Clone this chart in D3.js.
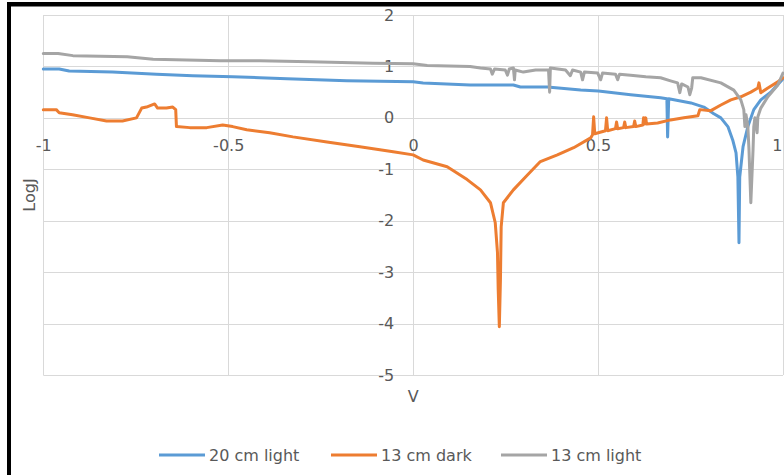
<!DOCTYPE html>
<html><head><meta charset="utf-8">
<script src="https://cdn.jsdelivr.net/npm/d3@7"></script>
<style>html,body{margin:0;padding:0;background:#fff;overflow:hidden;} svg{display:block;}</style>
</head><body><svg id="c" width="784" height="475"></svg>
<script>
// ---- data ----
const seriesNames = ["20 cm light", "13 cm dark", "13 cm light"];
const seriesColors = ["#5B9BD5", "#ED7D31", "#A5A5A5"];
const xTicks = [-1, -0.5, 0, 0.5, 1];
const xTickLabels = ["-1", "-0.5", "0", "0.5", "1"];
const yTicks = [-5, -4, -3, -2, -1, 0, 1, 2];
const yTickLabels = ["-5", "-4", "-3", "-2", "-1", "0", "1", "2"];
const xTitle = "V";
const yTitle = "LogJ";

const blueV = [-1.0,-0.957,-0.93,-0.813,-0.694,-0.596,-0.488,-0.415,-0.341,-0.179,0.0,0.027,0.154,0.271,0.29,0.363,0.453,0.501,0.588,0.669,0.686,0.688,0.691,0.751,0.786,0.813,0.832,0.851,0.864,0.873,0.878,0.881,0.883,0.892,0.905,0.921,0.94,0.967,1.0];
const blueL = [0.95,0.95,0.91,0.89,0.85,0.82,0.80,0.78,0.76,0.72,0.70,0.68,0.64,0.64,0.60,0.60,0.54,0.52,0.45,0.39,0.37,-0.37,0.37,0.29,0.21,0.08,0.0,-0.17,-0.43,-0.68,-1.15,-2.43,-1.15,-0.56,-0.17,0.16,0.35,0.50,0.76];

const orangeV = [-1.0,-0.965,-0.957,-0.921,-0.875,-0.829,-0.786,-0.748,-0.734,-0.721,-0.699,-0.691,-0.667,-0.650,-0.642,-0.640,-0.604,-0.558,-0.515,-0.488,-0.450,-0.388,-0.325,-0.233,-0.144,-0.054,0.0,0.027,0.092,0.146,0.182,0.209,0.222,0.228,0.230,0.233,0.236,0.238,0.244,0.271,0.309,0.344,0.390,0.434,0.480,0.485,0.488,0.491,0.520,0.523,0.526,0.547,0.550,0.553,0.569,0.572,0.575,0.596,0.599,0.602,0.621,0.623,0.626,0.629,0.631,0.661,0.696,0.732,0.770,0.775,0.805,0.832,0.859,0.886,0.913,0.932,0.935,0.940,0.959,0.986,1.0];
const orangeL = [0.16,0.16,0.10,0.06,0.0,-0.06,-0.06,0.0,0.19,0.21,0.27,0.19,0.19,0.21,0.16,-0.17,-0.19,-0.19,-0.14,-0.17,-0.23,-0.29,-0.37,-0.47,-0.56,-0.66,-0.72,-0.82,-0.95,-1.20,-1.40,-1.65,-2.04,-2.62,-3.34,-4.06,-3.15,-2.12,-1.65,-1.40,-1.11,-0.85,-0.72,-0.58,-0.39,-0.33,0.02,-0.31,-0.25,0.0,-0.25,-0.21,-0.08,-0.21,-0.19,-0.08,-0.19,-0.17,-0.06,-0.17,-0.14,0.0,-0.12,0.0,-0.12,-0.10,-0.04,0.0,0.04,0.16,0.14,0.25,0.35,0.41,0.50,0.58,0.68,0.49,0.58,0.70,0.78];

const grayV = [-1.0,-0.96,-0.92,-0.773,-0.703,-0.521,-0.415,-0.279,-0.108,0.0,0.038,0.154,0.182,0.209,0.214,0.220,0.249,0.255,0.260,0.271,0.274,0.276,0.298,0.331,0.366,0.369,0.371,0.412,0.425,0.431,0.453,0.458,0.463,0.499,0.507,0.512,0.547,0.553,0.558,0.588,0.629,0.669,0.696,0.715,0.721,0.726,0.743,0.748,0.753,0.756,0.778,0.832,0.867,0.886,0.894,0.897,0.900,0.905,0.908,0.913,0.919,0.921,0.924,0.930,0.932,0.940,0.959,0.986,1.0];
const grayL = [1.25,1.25,1.21,1.19,1.14,1.11,1.11,1.09,1.06,1.05,1.02,1.0,0.97,0.95,0.85,0.95,0.93,0.83,0.95,0.97,0.74,0.93,0.89,0.93,0.93,0.50,0.97,0.93,0.82,0.93,0.89,0.74,0.89,0.87,0.74,0.87,0.85,0.74,0.85,0.83,0.80,0.78,0.72,0.68,0.49,0.66,0.60,0.45,0.58,0.78,0.78,0.68,0.54,0.35,0.16,-0.17,0.06,-0.17,-0.62,-1.65,-0.62,-0.17,0.0,-0.29,0.02,0.19,0.41,0.64,0.87];

const seriesV = [blueV, orangeV, grayV];
const seriesL = [blueL, orangeL, grayL];

// ---- drawing ----
const svg = d3.select("#c");
const FONT = "'DejaVu Sans', sans-serif";
const TXT = "#595959";
const GRID = "#d9d9d9";

svg.append("rect").attr("width", 784).attr("height", 475).attr("fill", "#fff");

const x = d3.scaleLinear().domain([-1, 1]).range([43.3, 783]);
const y = d3.scaleLinear().domain([-5, 2]).range([375, 15]);

const grid = svg.append("g");
grid.selectAll("line.h").data(yTicks).enter().append("line")
  .attr("x1", x(-1)).attr("x2", x(1))
  .attr("y1", d => Math.round(y(d)) + 0.5).attr("y2", d => Math.round(y(d)) + 0.5)
  .attr("stroke", GRID).attr("stroke-width", 1);
grid.selectAll("line.v").data(xTicks).enter().append("line")
  .attr("y1", y(2)).attr("y2", y(-5))
  .attr("x1", d => Math.round(x(d)) + 0.5).attr("x2", d => Math.round(x(d)) + 0.5)
  .attr("stroke", GRID).attr("stroke-width", 1);

// axes (through origin)
const xAxis = d3.axisBottom(x).tickValues(xTicks).tickFormat((d, i) => xTickLabels[i]).tickSize(0).tickPadding(22);
const gx = svg.append("g").attr("transform", `translate(0,${y(0)})`).call(xAxis);
gx.select(".domain").remove();
gx.selectAll("text").attr("fill", TXT).style("font-family", FONT).style("font-size", "16px");
// keep the last label inside the picture edge
gx.selectAll("text").filter(d => d === 1).attr("text-anchor", "end").attr("dx", "-1px");

const yAxis = d3.axisLeft(y).tickValues(yTicks).tickFormat((d, i) => yTickLabels[i]).tickSize(0).tickPadding(19);
const gy = svg.append("g").attr("transform", `translate(${x(0)},0)`).call(yAxis);
gy.select(".domain").remove();
gy.selectAll("text").attr("fill", TXT).style("font-family", FONT).style("font-size", "16px");

// series
const line = d3.line().x(d => x(d[0])).y(d => y(d[1]));
seriesNames.forEach((name, i) => {
  const pts = seriesV[i].map((v, j) => [v, seriesL[i][j]]);
  svg.append("path").datum(pts)
    .attr("d", line)
    .attr("fill", "none")
    .attr("stroke", seriesColors[i])
    .attr("stroke-width", 3)
    .attr("stroke-linejoin", "round")
    .attr("stroke-linecap", "round");
});

// titles
svg.append("text").attr("x", x(0)).attr("y", 396).attr("dy", "0.35em")
  .attr("text-anchor", "middle").attr("fill", TXT)
  .style("font-family", FONT).style("font-size", "16px").text(xTitle);
svg.append("text").attr("transform", "translate(29,195) rotate(-90)").attr("dy", "0.35em")
  .attr("text-anchor", "middle").attr("fill", TXT)
  .style("font-family", FONT).style("font-size", "16px").text(yTitle);

// legend
const legendX = [159, 331, 501];
const lg = svg.append("g");
seriesNames.forEach((name, i) => {
  lg.append("line").attr("x1", legendX[i]).attr("x2", legendX[i] + 46)
    .attr("y1", 455).attr("y2", 455)
    .attr("stroke", seriesColors[i]).attr("stroke-width", 3);
  lg.append("text").attr("x", legendX[i] + 50).attr("y", 455).attr("dy", "0.35em")
    .attr("fill", TXT).style("font-family", FONT).style("font-size", "16px").text(name);
});

// black frame edges
svg.append("rect").attr("x", 7).attr("y", 2).attr("width", 777).attr("height", 4.5).attr("fill", "#000");
svg.append("rect").attr("x", 7).attr("y", 2).attr("width", 4).attr("height", 473).attr("fill", "#000");
</script></body></html>
